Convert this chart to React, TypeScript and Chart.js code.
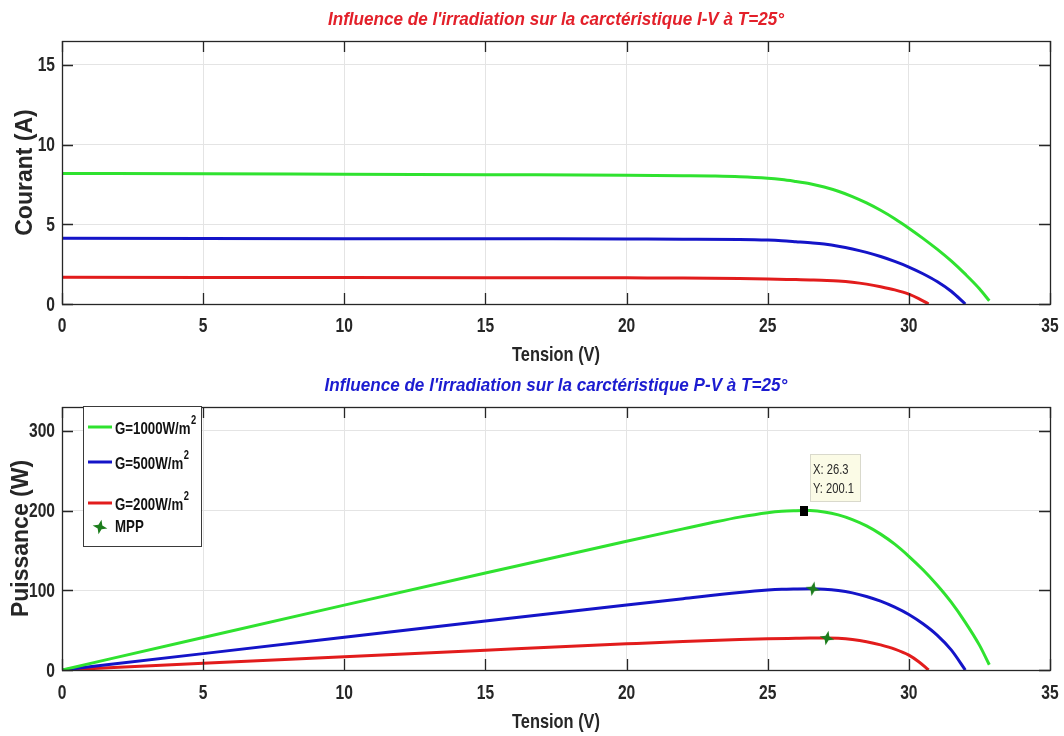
import React, { useEffect, useRef } from 'react';
import { Chart, registerables } from 'chart.js';

Chart.register(...registerables);

// ---------- data ----------
const X_MAX = 35;
const X_STEP = 5;

// G = 1000 W/m²
const V_G = [0, 5, 10, 15, 20, 22, 23, 24, 25, 25.5, 26, 26.3, 26.5, 27, 27.5, 28, 28.5, 29, 29.5, 30, 30.5, 31, 31.5, 32, 32.5, 32.85];
const I_G = [8.19, 8.17, 8.14, 8.11, 8.08, 8.05, 8.03, 7.99, 7.895, 7.81, 7.69, 7.61, 7.547, 7.343, 7.075, 6.741, 6.343, 5.879, 5.351, 4.757, 4.12, 3.44, 2.7, 1.87, 0.96, 0.2];
const P_G = [0, 40.85, 81.4, 121.65, 161.6, 177.1, 184.7, 191.8, 197.4, 199.2, 199.9, 200.1, 200.0, 198.3, 194.6, 188.7, 180.8, 170.5, 157.9, 142.7, 125.7, 106.6, 85.05, 59.84, 31.2, 6.57];

// G = 500 W/m²
const V_B = [0, 5, 10, 15, 20, 22, 24, 25, 25.5, 26, 26.6, 27, 27.5, 28, 28.5, 29, 29.5, 30, 30.5, 31, 31.5, 32];
const I_B = [4.12, 4.11, 4.1, 4.09, 4.08, 4.07, 4.05, 4.01, 3.97, 3.909, 3.83, 3.758, 3.629, 3.456, 3.238, 2.977, 2.672, 2.32, 1.9, 1.41, 0.8, 0];
const P_B = [0, 20.55, 41.0, 61.35, 81.6, 89.54, 97.2, 100.25, 101.24, 101.63, 101.88, 101.47, 99.8, 96.77, 92.28, 86.33, 78.82, 69.6, 57.95, 43.71, 25.2, 0];

// G = 200 W/m²
const V_R = [0, 5, 10, 15, 20, 22, 24, 25, 26, 26.5, 27.1, 27.5, 28, 28.5, 29, 29.5, 30, 30.35, 30.7];
const I_R = [1.68, 1.67, 1.66, 1.65, 1.64, 1.63, 1.6, 1.57, 1.53, 1.51, 1.48, 1.445, 1.366, 1.247, 1.087, 0.888, 0.62, 0.34, 0];
const P_R = [0, 8.35, 16.6, 24.75, 32.8, 35.86, 38.4, 39.25, 39.78, 40.02, 40.11, 39.74, 38.25, 35.54, 31.52, 26.2, 18.6, 10.32, 0];

// MPP markers
const MPP_V = [26.6, 27.1];
const MPP_P = [101.9, 40.1];

// data tip
const TIP_V = [26.3];
const TIP_P = [200.1];

const LABELS = ['G=1000W/m²', 'G=500W/m²', 'G=200W/m²', 'MPP'];
const COLORS = ['#2fe22f', '#1414c8', '#e21c1c'];

const TITLE_IV = "Influence de l'irradiation sur la carctéristique I-V à T=25°";
const TITLE_PV = "Influence de l'irradiation sur la carctéristique P-V à T=25°";
const X_TITLE = 'Tension (V)';
const Y_TITLE_IV = 'Courant (A)';
const Y_TITLE_PV = 'Puissance (W)';

const FONT = "'Liberation Sans', Arial, Helvetica, sans-serif";
const INK = '#262626';
const SX = 0.78; // horizontal squeeze of the original picture

const pts = (xs: number[], ys: number[]) => xs.map((x, i) => ({ x, y: ys[i] }));

function nText(
  ctx: CanvasRenderingContext2D,
  text: string,
  x: number,
  y: number,
  font: string,
  color: string,
  align: CanvasTextAlign,
  sx: number = SX
) {
  ctx.save();
  ctx.font = font;
  ctx.fillStyle = color;
  ctx.textBaseline = 'middle';
  ctx.textAlign = align;
  ctx.translate(x, y);
  ctx.scale(sx, 1);
  ctx.fillText(text, 0, 0);
  ctx.restore();
}

function makeStar(): HTMLCanvasElement {
  const c = document.createElement('canvas');
  c.width = 18;
  c.height = 18;
  const g = c.getContext('2d')!;
  g.fillStyle = '#1c7d1c';
  g.beginPath();
  for (let k = 0; k < 8; k++) {
    const a = -Math.PI / 2 + (k * Math.PI) / 4 + 0.2;
    const r = k % 2 === 0 ? 7.5 : 2.8;
    const px = 9 + r * Math.cos(a);
    const py = 9 + r * Math.sin(a);
    if (k === 0) g.moveTo(px, py);
    else g.lineTo(px, py);
  }
  g.closePath();
  g.fill();
  return c;
}

function makeTipMarker(): HTMLCanvasElement {
  const c = document.createElement('canvas');
  c.width = 8;
  c.height = 10;
  const g = c.getContext('2d')!;
  g.fillStyle = '#000';
  g.fillRect(0, 0, 8, 10);
  return c;
}

// Box, inward ticks, narrow texts (title, tick labels, x title)
const boxPlugin = {
  id: 'matlabBox',
  afterDatasetsDraw(chart: any, _args: any, opts: any) {
    const { ctx, chartArea: a, scales } = chart;
    ctx.save();
    ctx.strokeStyle = INK;
    ctx.lineWidth = 1.3;
    ctx.strokeRect(a.left + 0.5, a.top + 0.5, a.right - a.left, a.bottom - a.top);
    const L = 11;
    ctx.beginPath();
    scales.x.ticks.forEach((_t: any, i: number) => {
      const px = Math.round(scales.x.getPixelForTick(i)) + 0.5;
      ctx.moveTo(px, a.bottom);
      ctx.lineTo(px, a.bottom - L);
      ctx.moveTo(px, a.top);
      ctx.lineTo(px, a.top + L);
    });
    scales.y.ticks.forEach((_t: any, i: number) => {
      const py = Math.round(scales.y.getPixelForTick(i)) + 0.5;
      ctx.moveTo(a.left, py);
      ctx.lineTo(a.left + L, py);
      ctx.moveTo(a.right, py);
      ctx.lineTo(a.right - L, py);
    });
    ctx.stroke();
    ctx.restore();

    const tickFont = `bold 20px ${FONT}`;
    scales.x.ticks.forEach((t: any, i: number) => {
      nText(ctx, String(t.label), scales.x.getPixelForTick(i), a.bottom + opts.xLabelDy, tickFont, INK, 'center');
    });
    scales.y.ticks.forEach((t: any, i: number) => {
      nText(ctx, String(t.label), a.left - 7, scales.y.getPixelForTick(i) + 1, tickFont, INK, 'right');
    });
    const cx = (a.left + a.right) / 2;
    nText(ctx, opts.xTitle, cx, a.bottom + opts.xTitleDy, `bold 21px ${FONT}`, INK, 'center');
    nText(ctx, opts.title, cx, a.top - opts.titleDy, `italic bold 19px ${FONT}`, opts.titleColor, 'center', 0.9);
  },
};

function drawSupLabel(ctx: CanvasRenderingContext2D, text: string, x: number, y: number) {
  const f = `bold 17px ${FONT}`;
  if (text.endsWith('²')) {
    const base = text.slice(0, -1);
    nText(ctx, base, x, y + 2, f, '#111', 'left');
    ctx.save();
    ctx.font = f;
    const w = ctx.measureText(base).width * SX;
    ctx.restore();
    nText(ctx, '2', x + w + 0.5, y - 6, `bold 12px ${FONT}`, '#111', 'left');
  } else {
    nText(ctx, text, x, y, f, '#111', 'left');
  }
}

const legendPlugin = {
  id: 'boxLegend',
  afterDraw(chart: any) {
    const { ctx, chartArea: a } = chart;
    const left = a.left + 21;
    const top = a.top - 1;
    const w = 118;
    const h = 140;
    const rows = [20, 55, 96, 120];
    ctx.save();
    ctx.fillStyle = '#ffffff';
    ctx.fillRect(left, top, w, h);
    ctx.strokeStyle = '#3a3a3a';
    ctx.lineWidth = 1;
    ctx.strokeRect(left + 0.5, top + 0.5, w, h);
    let r = 0;
    chart.data.datasets.forEach((ds: any) => {
      if (!ds.label) return;
      const y = a.top + rows[r];
      if (ds.showLine === false) {
        const img = ds.pointStyle as HTMLCanvasElement;
        ctx.drawImage(img, left + 17 - img.width / 2, y - img.height / 2);
      } else {
        ctx.strokeStyle = ds.borderColor;
        ctx.lineWidth = 3;
        ctx.beginPath();
        ctx.moveTo(left + 5, y);
        ctx.lineTo(left + 29, y);
        ctx.stroke();
      }
      drawSupLabel(ctx, ds.label, left + 32, y);
      r++;
    });
    ctx.restore();
  },
};

const tipPlugin = {
  id: 'dataTip',
  afterDraw(chart: any) {
    const idx = chart.data.datasets.findIndex((d: any) => d.isTip);
    if (idx < 0) return;
    const el = chart.getDatasetMeta(idx).data[0];
    const v = chart.data.datasets[idx].data[0];
    const { ctx } = chart;
    const bx = Math.round(el.x + 6);
    const by = Math.round(el.y - 57);
    ctx.save();
    ctx.fillStyle = '#fbfbe6';
    ctx.fillRect(bx, by, 50, 47);
    ctx.strokeStyle = '#d9d9cc';
    ctx.lineWidth = 1;
    ctx.strokeRect(bx + 0.5, by + 0.5, 50, 47);
    ctx.restore();
    const f = `14px ${FONT}`;
    nText(ctx, `X: ${v.x}`, bx + 3, by + 16, f, '#2a2a2a', 'left', 0.8);
    nText(ctx, `Y: ${v.y}`, bx + 3, by + 35, f, '#2a2a2a', 'left', 0.8);
  },
};

function makeOptions(o: {
  title: string;
  titleColor: string;
  padTop: number;
  xH: number;
  xLabelDy: number;
  xTitleDy: number;
  yTitle: string;
  yTitlePad: number;
  yMax: number;
  yStep: number;
}) {
  return {
    responsive: false,
    animation: false as const,
    devicePixelRatio: 1,
    layout: { padding: { left: 0, right: 14, top: o.padTop, bottom: 0 } },
    plugins: {
      legend: { display: false },
      tooltip: { enabled: false },
      title: { display: false },
      matlabBox: {
        title: o.title,
        titleColor: o.titleColor,
        titleDy: 21,
        xTitle: X_TITLE,
        xLabelDy: o.xLabelDy,
        xTitleDy: o.xTitleDy,
      },
    },
    scales: {
      x: {
        type: 'linear' as const,
        min: 0,
        max: X_MAX,
        ticks: { stepSize: X_STEP, includeBounds: false, display: false },
        grid: { color: '#e4e4e4', drawTicks: false },
        border: { display: false },
        afterFit: (s: any) => {
          s.height = o.xH;
          s.paddingLeft = 0;
          s.paddingRight = 0;
        },
      },
      y: {
        type: 'linear' as const,
        min: 0,
        max: o.yMax,
        ticks: { stepSize: o.yStep, includeBounds: false, display: false },
        grid: { color: '#e4e4e4', drawTicks: false },
        border: { display: false },
        title: {
          display: true,
          text: o.yTitle,
          color: INK,
          font: { family: FONT, size: 23, weight: 'bold' as const },
          padding: { top: o.yTitlePad, bottom: 0 },
        },
        afterFit: (s: any) => {
          s.width = 62;
          s.paddingTop = 0;
          s.paddingBottom = 0;
        },
      },
    },
  };
}

const lineDs = (label: string, color: string, data: any[]) => ({
  label,
  data,
  borderColor: color,
  backgroundColor: color,
  borderWidth: 3,
  pointRadius: 0,
  fill: false,
  order: 1,
  cubicInterpolationMode: 'monotone' as const,
});

export default function App() {
  const ref1 = useRef<HTMLCanvasElement>(null);
  const ref2 = useRef<HTMLCanvasElement>(null);

  useEffect(() => {
    const star = makeStar();
    const tipMarker = makeTipMarker();
    const c1 = new Chart(ref1.current!, {
      type: 'line',
      data: {
        datasets: [
          lineDs(LABELS[0], COLORS[0], pts(V_G, I_G)),
          lineDs(LABELS[1], COLORS[1], pts(V_B, I_B)),
          lineDs(LABELS[2], COLORS[2], pts(V_R, I_R)),
        ],
      },
      options: makeOptions({
        title: TITLE_IV,
        titleColor: '#e3202a',
        padTop: 41,
        xH: 68,
        xLabelDy: 22.5,
        xTitleDy: 51,
        yTitle: Y_TITLE_IV,
        yTitlePad: 12,
        yMax: 16.5,
        yStep: 5,
      }) as any,
      plugins: [boxPlugin],
    });
    const c2 = new Chart(ref2.current!, {
      type: 'line',
      data: {
        datasets: [
          lineDs(LABELS[0], COLORS[0], pts(V_G, P_G)),
          lineDs(LABELS[1], COLORS[1], pts(V_B, P_B)),
          lineDs(LABELS[2], COLORS[2], pts(V_R, P_R)),
          {
            label: LABELS[3],
            data: pts(MPP_V, MPP_P),
            showLine: false,
            pointStyle: star,
            pointRadius: 8,
            order: 0,
            borderColor: '#1c7d1c',
            backgroundColor: '#1c7d1c',
          } as any,
          {
            label: '',
            isTip: true,
            data: pts(TIP_V, TIP_P),
            showLine: false,
            pointStyle: tipMarker,
            pointRadius: 6,
            order: 0,
            borderWidth: 0,
            borderColor: '#000',
            backgroundColor: '#000',
          } as any,
        ],
      },
      options: makeOptions({
        title: TITLE_PV,
        titleColor: '#1c1cd0',
        padTop: 35,
        xH: 66,
        xLabelDy: 23.5,
        xTitleDy: 52,
        yTitle: Y_TITLE_PV,
        yTitlePad: 8,
        yMax: 330,
        yStep: 100,
      }) as any,
      plugins: [boxPlugin, legendPlugin, tipPlugin],
    });
    return () => {
      c1.destroy();
      c2.destroy();
    };
  }, []);

  return (
    <div style={{ position: 'absolute', left: 0, top: 0, width: 1064, height: 736, background: '#fff' }}>
      <canvas ref={ref1} width={1064} height={372} style={{ display: 'block', width: 1064, height: 372 }} />
      <canvas ref={ref2} width={1064} height={364} style={{ display: 'block', width: 1064, height: 364 }} />
    </div>
  );
}
